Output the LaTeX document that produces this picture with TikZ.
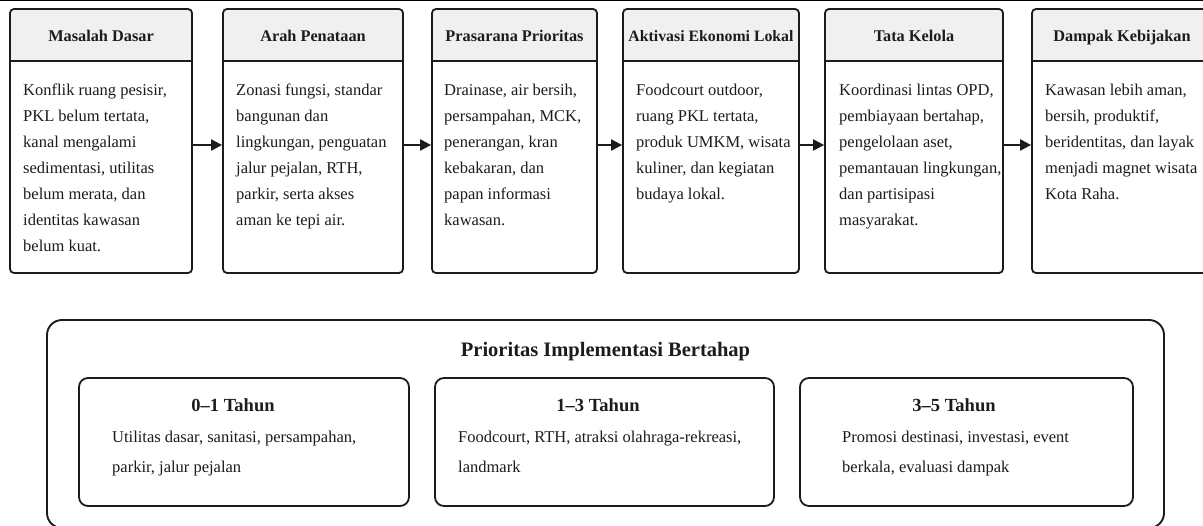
\documentclass[tikz,border=0pt]{standalone}
\usepackage{fontspec}
\setmainfont{Liberation Serif}
\usepackage{xcolor}
\usepackage{tikz}
\usetikzlibrary{arrows.meta}
\definecolor{hdrgray}{RGB}{240,240,240}
\definecolor{inkgray}{RGB}{28,28,28}
\newcommand{\hdsize}{\fontsize{16.3pt}{19pt}\selectfont}
\newcommand{\bdsize}{\fontsize{16.5pt}{26pt}\selectfont}
\newcommand{\phsize}{\fontsize{18.5pt}{22pt}\selectfont}
\newcommand{\ttsize}{\fontsize{20.5pt}{24pt}\selectfont}
\newcommand{\lssize}{\fontsize{16.5pt}{30pt}\selectfont}

\tikzset{
  stagebox/.style={draw=inkgray, line width=1.8pt, fill=white, rounded corners=4pt,
    inner sep=0pt, minimum height=264pt,
    path picture={
      \fill[hdrgray] (path picture bounding box.north west)
        rectangle ([yshift=-52pt]path picture bounding box.north east);
      \draw[inkgray, line width=1.8pt] ([yshift=-52pt]path picture bounding box.north west)
        -- ([yshift=-52pt]path picture bounding box.north east);}},
  stagehead/.style={anchor=base, inner sep=0pt, text=inkgray, font=\hdsize\bfseries},
  stagetext/.style={anchor=north west, inner sep=0pt, align=left, text=inkgray, font=\bdsize},
  flowarrow/.style={draw=inkgray, line width=2.2pt, -{Triangle[length=11pt,width=11pt]}},
  priobox/.style={draw=inkgray, line width=1.9pt, rounded corners=15pt, inner sep=0pt},
  phasebox/.style={draw=inkgray, line width=1.8pt, rounded corners=9pt, inner sep=0pt,
    minimum height=128pt},
  phasehead/.style={anchor=base, inner sep=0pt, text=inkgray, font=\phsize\bfseries},
  phasetext/.style={anchor=north west, inner sep=0pt, align=left, text=inkgray, font=\lssize}
}

\begin{document}
\begin{tikzpicture}[x=1pt, y=-1pt]
  \useasboundingbox (0,0) rectangle (1203,526);
  \fill[white] (0,0) rectangle (1203,526);
  \draw[black, line width=3pt] (0,0) -- (1203,0);

  % Masalah Dasar
  \node[stagebox, minimum width=182pt] (b1) at (101,141) {};
  \node[stagehead] (h1) at (101,41.5) {Masalah Dasar};
  \node[stagetext] (t1) at (23,84) {Konflik ruang pesisir,\\PKL belum tertata,\\kanal mengalami\\sedimentasi, utilitas\\belum merata, dan\\identitas kawasan\\belum kuat.};

  % Arah Penataan
  \node[stagebox, minimum width=180pt] (b2) at (313,141) {};
  \node[stagehead] (h2) at (313,41.5) {Arah Penataan};
  \node[stagetext] (t2) at (236,84) {Zonasi fungsi, standar\\bangunan dan\\lingkungan, penguatan\\jalur pejalan, RTH,\\parkir, serta akses\\aman ke tepi air.};

  % Prasarana Prioritas
  \node[stagebox, minimum width=165pt] (b3) at (514.5,141) {};
  \node[stagehead] (h3) at (514.5,41.5) {Prasarana Prioritas};
  \node[stagetext] (t3) at (444,84) {Drainase, air bersih,\\persampahan, MCK,\\penerangan, kran\\kebakaran, dan\\papan informasi\\kawasan.};

  % Aktivasi Ekonomi Lokal
  \node[stagebox, minimum width=176pt] (b4) at (711,141) {};
  \node[stagehead, font=\fontsize{15.8pt}{19pt}\selectfont\bfseries] (h4) at (711,41.5) {Aktivasi Ekonomi Lokal};
  \node[stagetext] (t4) at (636,84) {Foodcourt outdoor,\\ruang PKL tertata,\\produk UMKM, wisata\\kuliner, dan kegiatan\\budaya lokal.};

  % Tata Kelola
  \node[stagebox, minimum width=178pt] (b5) at (914,141) {};
  \node[stagehead] (h5) at (914,41.5) {Tata Kelola};
  \node[stagetext] (t5) at (839,84) {Koordinasi lintas OPD,\\pembiayaan bertahap,\\pengelolaan aset,\\pemantauan lingkungan,\\dan partisipasi\\masyarakat.};

  % Dampak Kebijakan
  \node[stagebox, minimum width=180pt] (b6) at (1122,141) {};
  \node[stagehead] (h6) at (1122,41.5) {Dampak Kebijakan};
  \node[stagetext] (t6) at (1045,84) {Kawasan lebih aman,\\bersih, produktif,\\beridentitas, dan layak\\menjadi magnet wisata\\Kota Raha.};

  % alur antar tahap
  \draw[flowarrow] ([yshift=-4pt]b1.east) -- ([yshift=-4pt]b2.west);
  \draw[flowarrow] ([yshift=-4pt]b2.east) -- ([yshift=-4pt]b3.west);
  \draw[flowarrow] ([yshift=-4pt]b3.east) -- ([yshift=-4pt]b4.west);
  \draw[flowarrow] ([yshift=-4pt]b4.east) -- ([yshift=-4pt]b5.west);
  \draw[flowarrow] ([yshift=-4pt]b5.east) -- ([yshift=-4pt]b6.west);

  % Prioritas bertahap
  \node[priobox, minimum width=1117pt, minimum height=208pt] (prio) at (605.5,424) {};
  \node[anchor=base, inner sep=0pt, text=inkgray, font=\ttsize\bfseries] (priohead) at (605.5,357) {Prioritas Implementasi Bertahap};

  \node[phasebox, minimum width=330pt] (p1) at (244,442) {};
  \node[phasehead] (p1h) at (233,412) {0--1 Tahun};
  \node[phasetext] (p1t) at (112,431) {Utilitas dasar, sanitasi, persampahan,\\parkir, jalur pejalan};

  \node[phasebox, minimum width=339pt] (p2) at (604.5,442) {};
  \node[phasehead] (p2h) at (598,412) {1--3 Tahun};
  \node[phasetext] (p2t) at (458,431) {Foodcourt, RTH, atraksi olahraga-rekreasi,\\landmark};

  \node[phasebox, minimum width=333pt] (p3) at (966.5,442) {};
  \node[phasehead] (p3h) at (954,412) {3--5 Tahun};
  \node[phasetext] (p3t) at (842,431) {Promosi destinasi, investasi, event\\berkala, evaluasi dampak};
\end{tikzpicture}
\end{document}
